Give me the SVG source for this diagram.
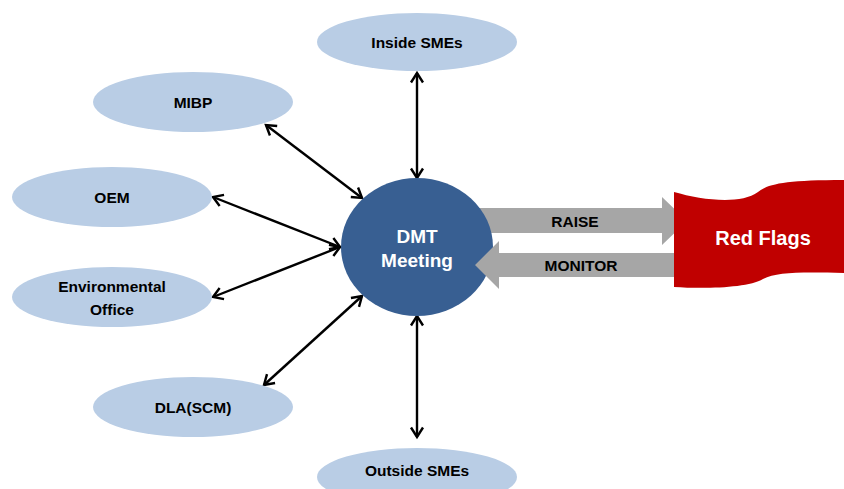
<svg xmlns="http://www.w3.org/2000/svg" width="844" height="489" viewBox="0 0 844 489">
  <style>
    .party { fill: #B9CDE5; }
    .party-label { font-family: "Liberation Sans", Arial, sans-serif; font-weight: bold; font-size: 15.5px; fill: #000; text-anchor: middle; }
    .hub { fill: #385F92; }
    .hub-label { font-family: "Liberation Sans", Arial, sans-serif; font-weight: bold; font-size: 19px; fill: #fff; text-anchor: middle; }
    .block { fill: #A6A6A6; }
    .block-label { font-family: "Liberation Sans", Arial, sans-serif; font-weight: bold; font-size: 15.5px; fill: #000; text-anchor: middle; }
    .flag { fill: #C00000; }
    .flag-label { font-family: "Liberation Sans", Arial, sans-serif; font-weight: bold; font-size: 20px; fill: #fff; text-anchor: middle; }
    .link { stroke: #000; stroke-width: 2.4; fill: none; marker-start: url(#head); marker-end: url(#head); }
  </style>
  <defs>
    <marker id="head" markerUnits="userSpaceOnUse" markerWidth="14" markerHeight="16" refX="11" refY="7" orient="auto-start-reverse" viewBox="0 0 14 14">
      <path d="M1.5,1 L11,7 L1.5,13" fill="none" stroke="#000" stroke-width="2.4" stroke-linejoin="miter"/>
    </marker>
  </defs>

  <!-- RAISE block arrow sits beneath the hub circle -->
  <g id="raise">
    <polygon class="block" points="460,208 662,208 662,197 687,221 662,245 662,233 460,233"/>
    <text class="block-label" x="575" y="227">RAISE</text>
  </g>

  <!-- connectors -->
  <g id="connectors">
    <line class="link" x1="417" y1="73" x2="417" y2="178"/>
    <line class="link" x1="417" y1="316" x2="417" y2="437"/>
    <line class="link" x1="266" y1="125" x2="362" y2="198"/>
    <line class="link" x1="213" y1="197" x2="340" y2="247"/>
    <line class="link" x1="213" y1="297" x2="340" y2="247"/>
    <line class="link" x1="264" y1="385" x2="362" y2="296"/>
  </g>

  <g id="inside-smes">
    <ellipse class="party" cx="417" cy="42" rx="100" ry="29"/>
    <text class="party-label" x="417" y="47.5">Inside SMEs</text>
  </g>
  <g id="mibp">
    <ellipse class="party" cx="193" cy="102" rx="100" ry="30"/>
    <text class="party-label" x="193" y="107.5">MIBP</text>
  </g>
  <g id="oem">
    <ellipse class="party" cx="112" cy="197" rx="100" ry="30"/>
    <text class="party-label" x="112" y="202.5">OEM</text>
  </g>
  <g id="environmental-office">
    <ellipse class="party" cx="112" cy="297" rx="100" ry="30"/>
    <text class="party-label" x="112" y="292">Environmental</text>
    <text class="party-label" x="112" y="314.5">Office</text>
  </g>
  <g id="dla-scm">
    <ellipse class="party" cx="193" cy="407" rx="100" ry="30"/>
    <text class="party-label" x="193" y="412.5">DLA(SCM)</text>
  </g>
  <g id="outside-smes">
    <ellipse class="party" cx="417" cy="477" rx="100" ry="29"/>
    <text class="party-label" x="417" y="476">Outside SMEs</text>
  </g>

  <g id="dmt-meeting">
    <ellipse class="hub" cx="417" cy="247" rx="76" ry="69"/>
    <text class="hub-label" x="417" y="243">DMT</text>
    <text class="hub-label" x="417" y="267">Meeting</text>
  </g>

  <g id="monitor">
    <polygon class="block" points="676,253 499,253 499,241 475,265 499,289 499,277 676,277"/>
    <text class="block-label" x="581" y="271">MONITOR</text>
  </g>

  <g id="red-flags">
    <path class="flag" d="M674,192 C702,200 740,205 758,192 C768,184 785,180 844,180 L844,273 C800,272 777,272 763,279 C748,288 705,289 674,287 Z"/>
    <text class="flag-label" x="763" y="245">Red Flags</text>
  </g>
</svg>
